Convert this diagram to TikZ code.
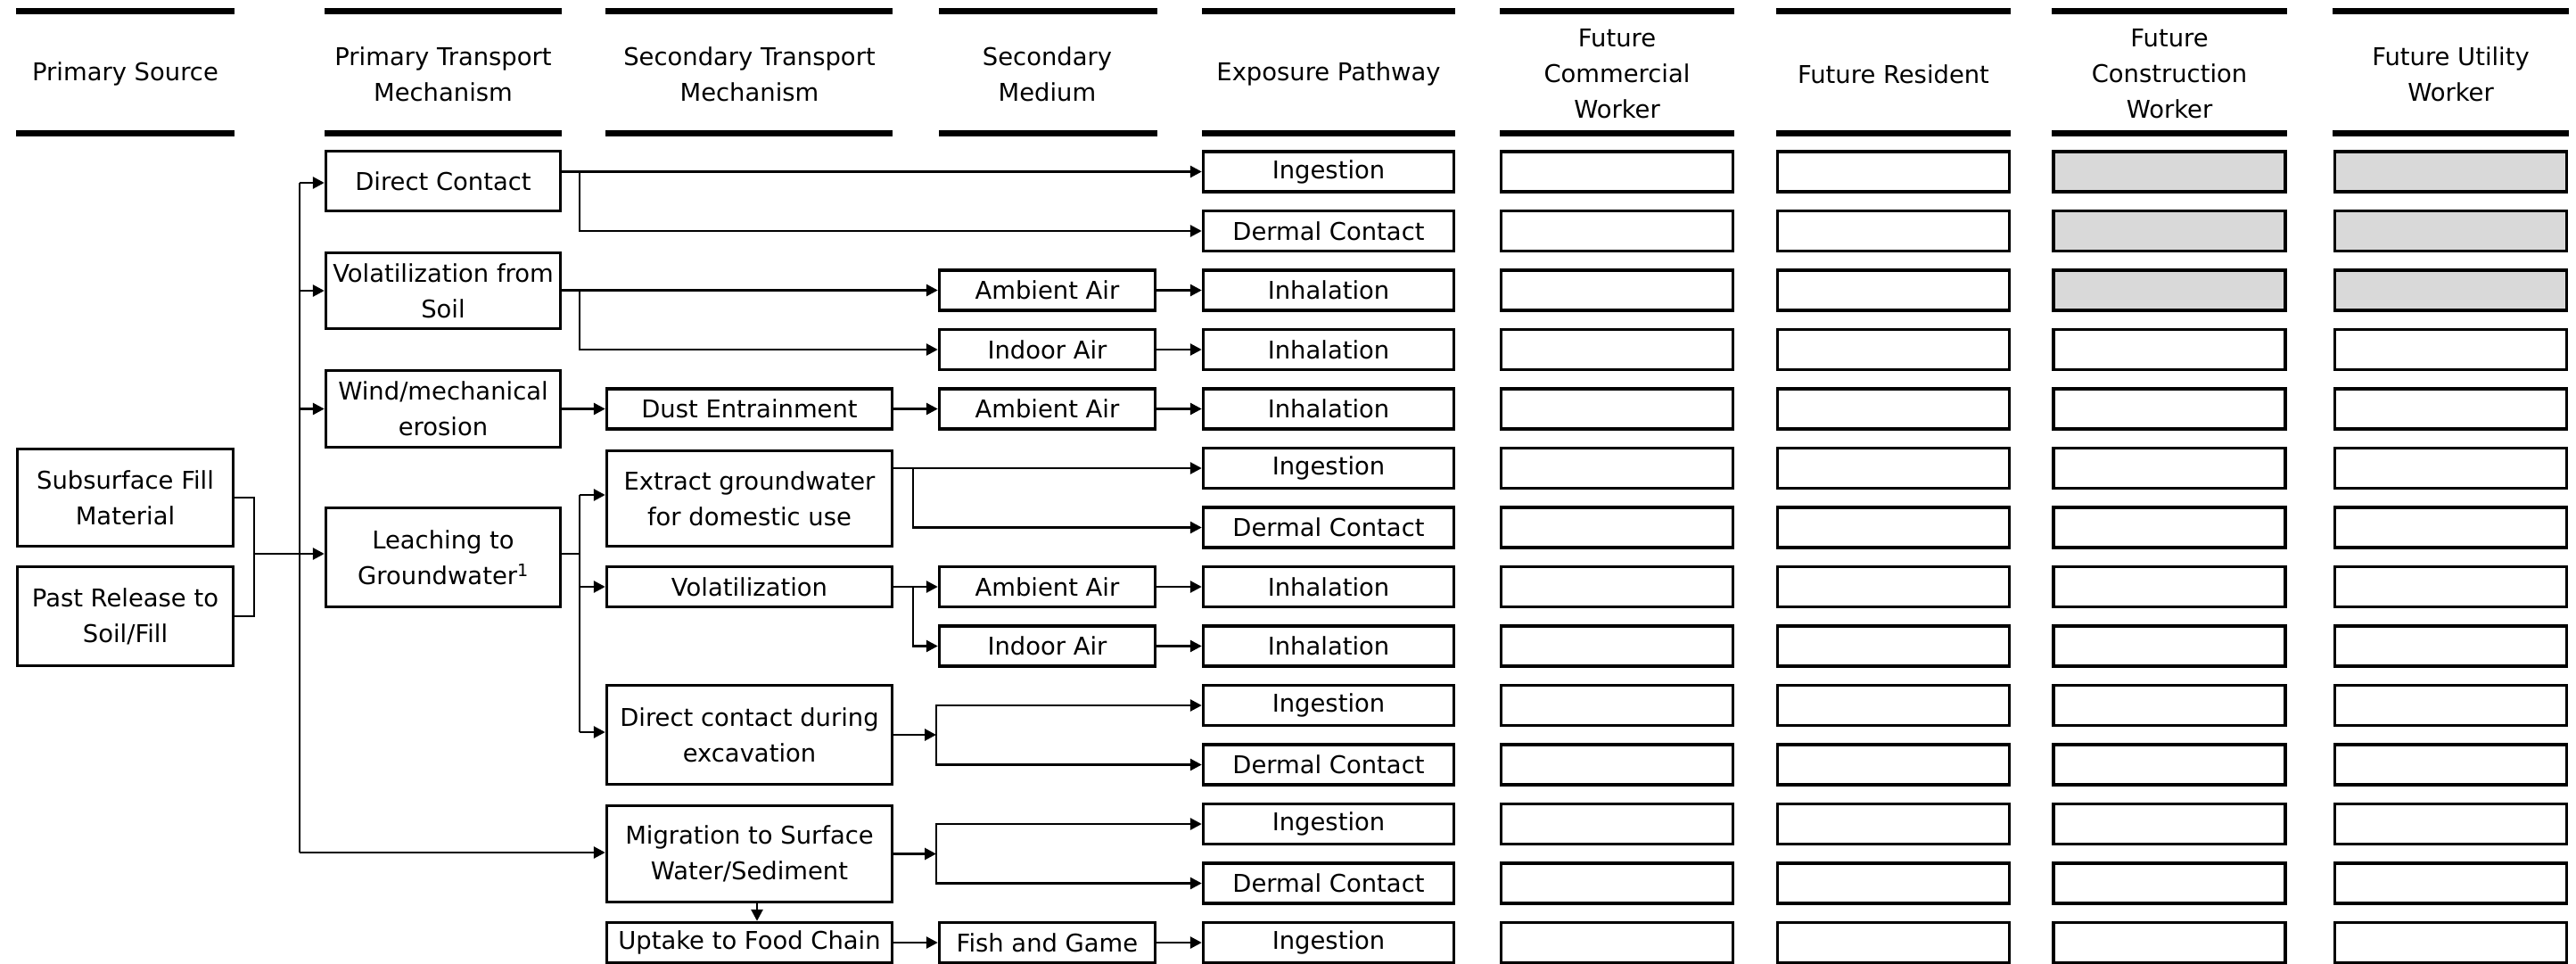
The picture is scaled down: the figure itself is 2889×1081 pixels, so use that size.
\documentclass[tikz,border=0pt]{standalone}
\usepackage{fontspec}
\setmainfont{DejaVu Sans}
\usetikzlibrary{arrows.meta}
\begin{document}
\begin{tikzpicture}[x=1pt,y=-1pt,
  font=\fontsize{27.4pt}{40pt}\selectfont,
  bx/.style={draw, line width=3.4pt, rectangle, inner sep=0pt, align=center, fill=white},
  c1/.style={bx, minimum width=242pt},
  c2/.style={bx, minimum width=263pt},
  c3/.style={bx, minimum width=320pt},
  c4/.style={bx, minimum width=242pt, minimum height=45pt},
  c5/.style={bx, minimum width=281pt, minimum height=45pt},
  rcp/.style={bx, minimum width=260pt, minimum height=45pt},
  grayrcp/.style={rcp, fill=gray!30},
  conn/.style={line width=2.8pt},
  arr/.style={conn, -{Triangle[length=13pt,width=13pt]}},
  hbar/.style={line width=7pt},
  hd/.style={align=center, inner sep=0pt},
]
\useasboundingbox (0,0) rectangle (2889,1081);

% header bars
\foreach \a/\b in {18/263, 364/630, 679/1001, 1053/1298, 1348/1632, 1682/1945, 1992/2255, 2301/2565, 2616/2881}{
  \draw[hbar] (\a,12.5) -- (\b,12.5);
  \draw[hbar] (\a,149.5) -- (\b,149.5);
}
% header texts
\node[hd] (h1) at (140.5,83) {Primary Source};
\node[hd] (h2) at (497,83) {Primary Transport\\Mechanism};
\node[hd] (h3) at (840.5,83) {Secondary Transport\\Mechanism};
\node[hd] (h4) at (1174.5,83) {Secondary\\Medium};
\node[hd] (h5) at (1490,83) {Exposure Pathway};
\node[hd] (h6) at (1813.5,83) {Future\\Commercial\\Worker};
\node[hd] (h7) at (2123.5,83) {Future Resident};
\node[hd] (h8) at (2433,83) {Future\\Construction\\Worker};
\node[hd] (h9) at (2748.5,83) {Future Utility\\Worker};

% primary sources
\node[c1, minimum height=109pt] (sub) at (140.5,558) {Subsurface Fill\\Material};
\node[c1, minimum height=111pt] (past) at (140.5,691) {Past Release to\\Soil/Fill};

% primary transport
\node[c2, minimum height=67pt] (dc) at (497,203) {Direct Contact};
\node[c2, minimum height=85pt] (vfs) at (497,326) {Volatilization from\\Soil};
\node[c2, minimum height=86pt] (wind) at (497,458.5) {Wind/mechanical\\erosion};
\node[c2, minimum height=111pt] (leach) at (497,625) {Leaching to\\Groundwater\textsuperscript{1}};

% secondary transport
\node[c3, minimum height=45pt] (dust) at (840.5,458.5) {Dust Entrainment};
\node[c3, minimum height=107pt] (ext) at (840.5,559) {Extract groundwater\\for domestic use};
\node[c3, minimum height=45pt] (vol) at (840.5,658) {Volatilization};
\node[c3, minimum height=111pt] (dce) at (840.5,824) {Direct contact during\\excavation};
\node[c3, minimum height=108pt] (mig) at (840.5,957.5) {Migration to Surface\\Water/Sediment};
\node[c3, minimum height=45pt] (upt) at (840.5,1057) {Uptake to Food Chain};

% secondary medium
\node[c4] (amb3) at (1174.5,325.5) {Ambient Air};
\node[c4] (ind4) at (1174.5,392) {Indoor Air};
\node[c4] (amb5) at (1174.5,458.5) {Ambient Air};
\node[c4] (amb8) at (1174.5,658) {Ambient Air};
\node[c4] (ind9) at (1174.5,724.5) {Indoor Air};
\node[c4] (fish) at (1174.5,1057) {Fish and Game};

% exposure pathways
\foreach \k/\t in {1/Ingestion,2/Dermal Contact,3/Inhalation,4/Inhalation,5/Inhalation,6/Ingestion,7/Dermal Contact,8/Inhalation,9/Inhalation,10/Ingestion,11/Dermal Contact,12/Ingestion,13/Dermal Contact,14/Ingestion}{
  \node[c5] (e\k) at (1490,{192.5+66.5*(\k-1)}) {\t};
}

% receptors
\foreach \k in {1,...,14}{
  \node[rcp] (f\k) at (1813.5,{192.5+66.5*(\k-1)}) {};
  \node[rcp] (r\k) at (2123.5,{192.5+66.5*(\k-1)}) {};
}
\foreach \k in {1,2,3}{
  \node[grayrcp] (c\k) at (2433,{192.5+66.5*(\k-1)}) {};
  \node[grayrcp] (u\k) at (2748.5,{192.5+66.5*(\k-1)}) {};
}
\foreach \k in {4,...,14}{
  \node[rcp] (c\k) at (2433,{192.5+66.5*(\k-1)}) {};
  \node[rcp] (u\k) at (2748.5,{192.5+66.5*(\k-1)}) {};
}

% junction coordinates
\coordinate (brk) at (285,621);
\coordinate (trtop) at (336,205);
\coordinate (trbot) at (336,956);
\coordinate (lttop) at (650,555);
\coordinate (ltmid) at (650,621);
\coordinate (ltbot) at (650,821);
\coordinate (b1) at (650,192.5);
\coordinate (b2) at (650,325.5);
\coordinate (b3) at (1024,525);
\coordinate (b4) at (1024,658);
\coordinate (b5) at (1050,824);
\coordinate (b6) at (1050,957.5);
\coordinate (dn) at (849,0);

% connectors
\draw[conn] (sub.east) -| (brk) |- (past.east);
\draw[arr] (brk) -- (leach.west |- brk);
\draw[conn] (trtop) -- (trbot);
\draw[arr] (trtop) -- (dc.west |- trtop);
\draw[arr] (trtop |- vfs.west) -- (vfs.west);
\draw[arr] (trtop |- wind.west) -- (wind.west);
\draw[arr] (trbot) -- (mig.west |- trbot);

\draw[conn] (leach.east |- ltmid) -- (ltmid);
\draw[conn] (lttop) -- (ltbot);
\draw[arr] (lttop) -- (ext.west |- lttop);
\draw[arr] (lttop |- vol.west) -- (vol.west);
\draw[arr] (ltbot) -- (dce.west |- ltbot);

\draw[arr] (dc.east |- e1.west) -- (e1.west);
\draw[arr] (b1) |- (e2.west);
\draw[arr] (vfs.east |- amb3.west) -- (amb3.west);
\draw[arr] (b2) |- (ind4.west);
\draw[arr] (amb3.east) -- (e3.west);
\draw[arr] (ind4.east) -- (e4.west);
\draw[arr] (wind.east |- dust.west) -- (dust.west);
\draw[arr] (dust.east) -- (amb5.west);
\draw[arr] (amb5.east) -- (e5.west);
\draw[arr] (ext.east |- e6.west) -- (e6.west);
\draw[arr] (b3) |- (e7.west);
\draw[arr] (vol.east) -- (amb8.west);
\draw[arr] (b4) |- (ind9.west);
\draw[arr] (amb8.east) -- (e8.west);
\draw[arr] (ind9.east) -- (e9.west);
\draw[arr] (dce.east) -- (b5);
\draw[arr] (b5) |- (e10.west);
\draw[arr] (b5) |- (e11.west);
\draw[arr] (mig.east) -- (b6);
\draw[arr] (b6) |- (e12.west);
\draw[arr] (b6) |- (e13.west);
\draw[arr] (mig.south -| dn) -- (upt.north -| dn);
\draw[arr] (upt.east) -- (fish.west);
\draw[arr] (fish.east) -- (e14.west);
\end{tikzpicture}
\end{document}
